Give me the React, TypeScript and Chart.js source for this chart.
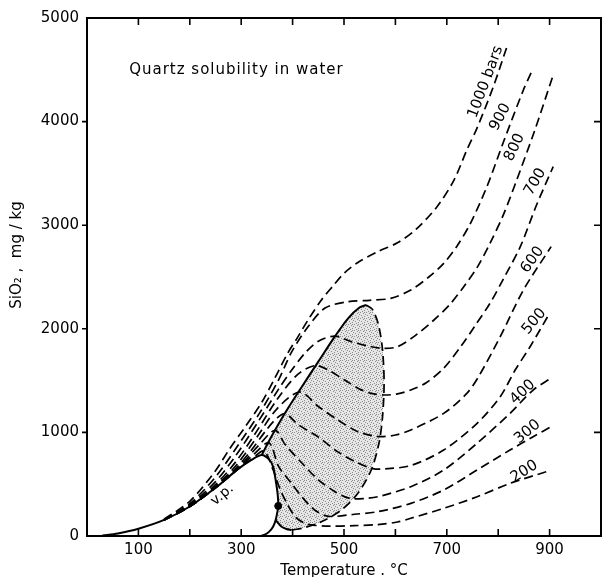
import { useEffect, useRef } from 'react';
import { Chart, registerables } from 'chart.js';

Chart.register(...registerables);

const FONT = '"DejaVu Sans", sans-serif';

// axis ticks
const xTickLabels = [100, 300, 500, 700, 900];
const xTickMarks = [100, 200, 300, 400, 500, 600, 700, 800, 900];
const yTickMarks = [1000, 2000, 3000, 4000];

// vapour-pressure curve (solid)
const vpRising = [[30, 5], [60, 25], [100, 70], [150, 155], [200, 285], [250, 465], [295, 650], [320, 735], [340, 782]];
const vpLobeUpper = [[340, 782], [355, 735], [362, 670], [367, 540], [371, 400], [372, 290], [367, 154]];
const vpLobeLower = [[367, 154], [362, 90], [354, 40], [345, 10], [337, 0]];
const lobeLink = [[367, 154], [378, 92], [388, 68], [398, 58]];
const criticalPoint = [[372, 290]];

// boundary of the retrograde region
const solidBoundary = [[340, 782], [357, 943], [385, 1184], [418, 1441], [450, 1683], [482, 1924], [508, 2101], [530, 2205], [543, 2230]];
const dashedBoundary = [[543, 2230], [555, 2190], [567, 2040], [575, 1795], [578, 1474], [575, 1152], [568, 895], [553, 637], [527, 412], [495, 251], [456, 138], [420, 76], [398, 58]];

// isobars (dashed)
const p1000 = [[150, 162], [200, 335], [250, 630], [276, 830], [308, 1055], [340, 1290], [365, 1520], [390, 1760], [410, 1920], [430, 2085], [456, 2278], [478, 2410], [501, 2540], [527, 2640], [566, 2745], [604, 2830], [640, 2960], [681, 3178], [714, 3436], [739, 3726], [759, 3940], [790, 4330], [817, 4723]];
const p900 = [[150, 159], [200, 312], [250, 570], [300, 920], [340, 1220], [373, 1510], [398, 1775], [430, 2020], [463, 2200], [508, 2262], [550, 2275], [591, 2294], [630, 2374], [665, 2500], [694, 2632], [720, 2800], [746, 3018], [778, 3372], [810, 3800], [849, 4305], [865, 4482]];
const p800 = [[150, 157], [200, 300], [250, 525], [290, 780], [330, 1080], [373, 1420], [398, 1600], [424, 1765], [450, 1880], [482, 1930], [514, 1876], [553, 1827], [578, 1811], [604, 1827], [640, 1940], [675, 2085], [705, 2230], [733, 2406], [760, 2600], [784, 2825], [810, 3100], [836, 3436], [870, 3900], [907, 4450]];
const p700 = [[150, 156], [200, 292], [250, 495], [290, 720], [330, 1010], [370, 1320], [410, 1560], [444, 1645], [470, 1600], [501, 1506], [530, 1420], [553, 1377], [578, 1361], [604, 1372], [630, 1409], [660, 1480], [694, 1620], [727, 1827], [755, 2030], [784, 2246], [810, 2480], [843, 2793], [875, 3200], [907, 3565]];
const p600 = [[150, 155], [200, 288], [250, 480], [290, 680], [330, 950], [370, 1230], [414, 1390], [450, 1250], [488, 1120], [527, 1007], [566, 960], [600, 975], [630, 1023], [694, 1184], [739, 1377], [762, 1540], [804, 1924], [849, 2374], [903, 2793]];
const p500 = [[150, 155], [200, 286], [250, 470], [290, 655], [320, 830], [350, 1030], [370, 1140], [386, 1180], [411, 1075], [450, 955], [488, 812], [521, 720], [556, 650], [580, 648], [630, 680], [694, 830], [759, 1088], [804, 1345], [833, 1602], [862, 1827], [900, 2150]];
const p400 = [[150, 155], [200, 285], [250, 466], [295, 662], [335, 880], [366, 1020], [386, 880], [418, 705], [450, 542], [482, 430], [510, 365], [540, 362], [566, 379], [630, 476], [694, 637], [759, 895], [823, 1184], [868, 1409], [903, 1525]];
const p300 = [[150, 155], [200, 285], [250, 465], [295, 652], [325, 790], [354, 900], [373, 669], [398, 508], [418, 379], [443, 251], [470, 190], [520, 210], [566, 235], [630, 315], [694, 444], [759, 637], [823, 830], [868, 959], [903, 1055]];
const p200 = [[150, 155], [200, 285], [250, 465], [295, 650], [320, 740], [344, 820], [362, 640], [375, 460], [389, 315], [405, 186], [424, 122], [440, 105], [470, 95], [520, 100], [566, 110], [604, 135], [630, 171], [694, 267], [759, 379], [823, 508], [894, 621]];

// isobar labels
const labelTexts = ['200', '300', '400', '500', '600', '700', '800', '900', '1000 bars'];
const labelT = [855, 862, 853, 876, 873, 879, 839, 811, 783];
const labelS = [589, 975, 1361, 2046, 2642, 3398, 3735, 4025, 4368];
const labelAngle = [-32, -40, -43, -50, -54, -60, -65, -62, -69.5];

const titleText = 'Quartz solubility in water';
const titlePos = [82, 4459];
const vpText = 'v.p.';
const vpPos = [263, 396];
const vpAngle = -40;
const xTitle = 'Temperature . °C';
const yTitle = 'SiO₂ ,  mg / kg';

const stippleDots = [[0, 0], [3, 1], [1, 3], [4, 4], [2, 5], [5, 2], [4, 0]];

const toXY = (a: number[][]) => a.map(([x, y]) => ({ x, y }));

const decorPlugin = {
  id: 'decor',
  afterDraw(chart: any) {
    const { ctx, chartArea: a, scales } = chart;
    const x = scales.x;
    const y = scales.y;
    ctx.save();
    ctx.strokeStyle = '#000';
    ctx.lineWidth = 2;
    ctx.strokeRect(a.left, a.top, a.right - a.left, a.bottom - a.top);
    ctx.lineWidth = 1.6;
    ctx.beginPath();
    for (const t of xTickMarks) {
      const px = x.getPixelForValue(t);
      ctx.moveTo(px, a.top);
      ctx.lineTo(px, a.top + 7);
      ctx.moveTo(px, a.bottom);
      ctx.lineTo(px, a.bottom - 7);
    }
    for (const s of yTickMarks) {
      const py = y.getPixelForValue(s);
      ctx.moveTo(a.left - 5, py);
      ctx.lineTo(a.left, py);
      ctx.moveTo(a.right, py);
      ctx.lineTo(a.right - 7, py);
    }
    ctx.stroke();

    ctx.fillStyle = '#000';
    ctx.font = `15px ${FONT}`;
    (ctx as any).letterSpacing = '1px';
    ctx.textAlign = 'left';
    ctx.textBaseline = 'alphabetic';
    ctx.fillText(titleText, x.getPixelForValue(titlePos[0]), y.getPixelForValue(titlePos[1]));
    (ctx as any).letterSpacing = '0px';

    // isobar labels, set just beside their curves
    ctx.textAlign = 'center';
    ctx.textBaseline = 'middle';
    labelTexts.forEach((txt, i) => {
      ctx.save();
      ctx.translate(x.getPixelForValue(labelT[i]), y.getPixelForValue(labelS[i]));
      ctx.rotate((labelAngle[i] * Math.PI) / 180);
      ctx.fillText(txt, 0, -4);
      ctx.restore();
    });
    ctx.save();
    ctx.font = `14px ${FONT}`;
    ctx.translate(x.getPixelForValue(vpPos[0]), y.getPixelForValue(vpPos[1]));
    ctx.rotate((vpAngle * Math.PI) / 180);
    ctx.fillText(vpText, 0, 0);
    ctx.restore();

    ctx.textAlign = 'center';
    ctx.textBaseline = 'alphabetic';
    ctx.fillText(xTitle, (a.left + a.right) / 2, 575);
    ctx.save();
    ctx.translate(21, 255);
    ctx.rotate(-Math.PI / 2);
    ctx.fillText(yTitle, 0, 0);
    ctx.restore();
    ctx.restore();
  },
};

export default function App() {
  const ref = useRef<HTMLCanvasElement | null>(null);
  useEffect(() => {
    document.body.style.margin = '0';
    const canvas = ref.current!;
    const ctx = canvas.getContext('2d')!;
    const pc = document.createElement('canvas');
    pc.width = 6;
    pc.height = 6;
    const g = pc.getContext('2d')!;
    g.fillStyle = '#e6e6e6';
    g.fillRect(0, 0, 6, 6);
    g.fillStyle = '#8c8c8c';
    for (const [a, b] of stippleDots) g.fillRect(a, b, 1, 1);
    const stipple = ctx.createPattern(pc, 'repeat');

    const dashed = (pts: number[][]) => ({
      data: toXY(pts),
      showLine: true,
      borderColor: '#000',
      borderWidth: 1.7,
      borderDash: [9, 5],
      pointRadius: 0,
      tension: 0.3,
      fill: false,
    });
    const solid = (pts: number[][]) => ({
      data: toXY(pts),
      showLine: true,
      borderColor: '#000',
      borderWidth: 2,
      pointRadius: 0,
      tension: 0.3,
      fill: false,
    });
    const shadePts = [
      ...vpLobeUpper,
      ...lobeLink.slice(1),
      ...[...dashedBoundary].reverse().slice(1),
      ...[...solidBoundary].reverse().slice(1),
    ];

    const chart = new Chart(canvas, {
      type: 'scatter',
      data: {
        datasets: [
          {
            data: toXY(criticalPoint),
            pointRadius: 3.5,
            pointBackgroundColor: '#000',
            pointBorderColor: '#000',
            showLine: false,
          } as any,
          dashed(p200),
          dashed(p300),
          dashed(p400),
          dashed(p500),
          dashed(p600),
          dashed(p700),
          dashed(p800),
          dashed(p900),
          dashed(p1000),
          dashed(dashedBoundary),
          solid(solidBoundary),
          solid(lobeLink),
          solid([...vpRising, ...vpLobeUpper.slice(1), ...vpLobeLower.slice(1)]),
          {
            data: toXY(shadePts),
            showLine: true,
            borderWidth: 0,
            borderColor: 'rgba(0,0,0,0)',
            backgroundColor: stipple,
            pointRadius: 0,
            tension: 0.3,
            fill: 'shape',
          } as any,
        ],
      },
      options: {
        animation: false,
        responsive: false,
        layout: { padding: { top: 18, right: 1, left: 0, bottom: 0 } },
        plugins: { legend: { display: false }, tooltip: { enabled: false } },
        scales: {
          x: {
            type: 'linear',
            min: 0,
            max: 1000,
            grid: { display: false, drawTicks: false },
            border: { display: false },
            ticks: {
              stepSize: 100,
              autoSkip: false,
              maxRotation: 0,
              padding: 5,
              color: '#000',
              font: { family: FONT, size: 15 },
              callback: (v: any) => (xTickLabels.includes(Number(v)) ? String(v) : ''),
            },
            afterFit: (s: any) => {
              s.height = 41;
            },
          },
          y: {
            type: 'linear',
            min: 0,
            max: 5000,
            grid: { display: false, drawTicks: false },
            border: { display: false },
            ticks: {
              stepSize: 1000,
              padding: 8,
              color: '#000',
              font: { family: FONT, size: 15 },
              callback: (v: any) => String(v),
            },
            afterFit: (s: any) => {
              s.width = 87;
            },
          },
        },
      },
      plugins: [decorPlugin],
    });
    return () => chart.destroy();
  }, []);
  return <canvas ref={ref} width={606} height={577} style={{ display: 'block' }} />;
}
